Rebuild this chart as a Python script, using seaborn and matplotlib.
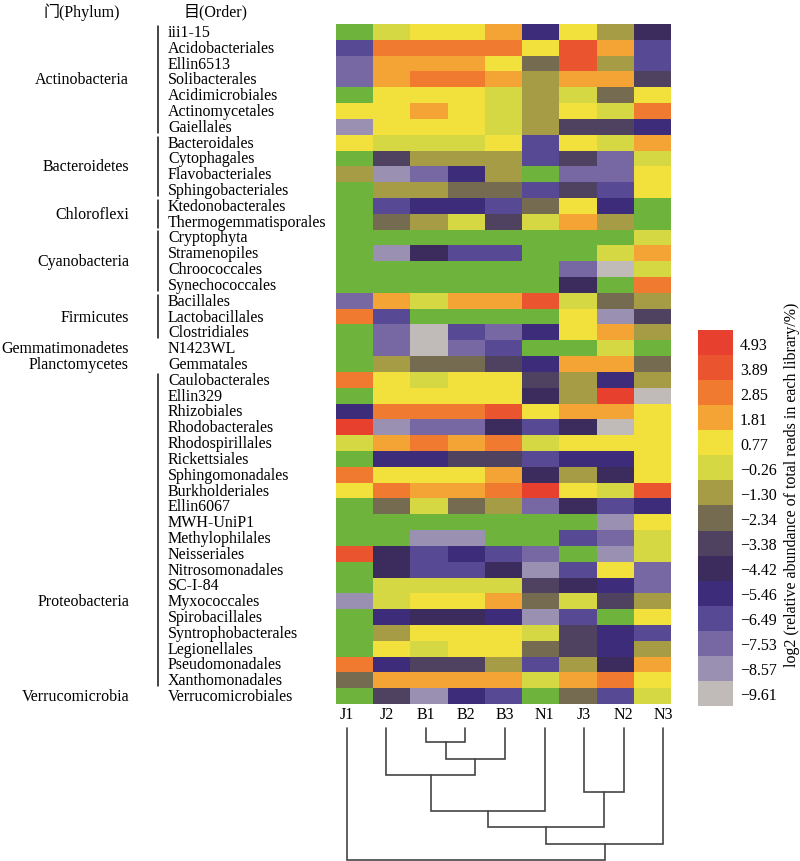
import numpy as np
import pandas as pd
import matplotlib
matplotlib.use('Agg')
import matplotlib.pyplot as plt
from matplotlib.colors import ListedColormap
from matplotlib import transforms
import seaborn as sns

# ---------- data ----------
nan = np.nan

samples = ['J1', 'J2', 'B1', 'B2', 'B3', 'N1', 'J3', 'N2', 'N3']

orders = ['iii1-15', 'Acidobacteriales', 'Ellin6513', 'Solibacterales', 'Acidimicrobiales',
          'Actinomycetales', 'Gaiellales', 'Bacteroidales', 'Cytophagales', 'Flavobacteriales',
          'Sphingobacteriales', 'Ktedonobacterales', 'Thermogemmatisporales', 'Cryptophyta',
          'Stramenopiles', 'Chroococcales', 'Synechococcales', 'Bacillales', 'Lactobacillales',
          'Clostridiales', 'N1423WL', 'Gemmatales', 'Caulobacterales', 'Ellin329', 'Rhizobiales',
          'Rhodobacterales', 'Rhodospirillales', 'Rickettsiales', 'Sphingomonadales',
          'Burkholderiales', 'Ellin6067', 'MWH-UniP1', 'Methylophilales', 'Neisseriales',
          'Nitrosomonadales', 'SC-I-84', 'Myxococcales', 'Spirobacillales', 'Syntrophobacterales',
          'Legionellales', 'Pseudomonadales', 'Xanthomonadales', 'Verrucomicrobiales']

# phylum, first row, last row, row where the name is written
phyla = ['Actinobacteria', 'Bacteroidetes', 'Chloroflexi', 'Cyanobacteria', 'Firmicutes',
         'Gemmatimonadetes', 'Planctomycetes', 'Proteobacteria', 'Verrucomicrobia']
phylum_start = [0, 7, 11, 13, 17, 20, 21, 22, 42]
phylum_end = [6, 10, 12, 16, 19, 20, 21, 41, 42]
phylum_label_row = [3.0, 8.5, 11.5, 14.5, 18.0, 20.0, 21.0, 36.0, 42.0]

# colour levels of the legend (log2 relative abundance)
levels = [4.93, 3.89, 2.85, 1.81, 0.77, -0.26, -1.30, -2.34, -3.38, -4.42,
          -5.46, -6.49, -7.53, -8.57, -9.61]
level_colors = ['#e8402e', '#ea5530', '#ef7a30', '#f4a434', '#f2e03c', '#d5d843',
                '#a69c45', '#746b50', '#4e4260', '#3c2c5e', '#3d2c7a', '#574993',
                '#7768a3', '#9990b2', '#c0bab9']
missing_color = '#6db33c'

J1 = [nan, -6.49, -7.53, -7.53, nan, 0.77, -8.57, 0.77, nan, -1.30, nan, nan, nan, nan, nan,
      nan, nan, -7.53, 2.85, nan, nan, nan, 2.85, nan, -5.46, 4.93, -0.26, nan, 2.85, 0.77,
      nan, nan, nan, 3.89, nan, nan, -8.57, nan, nan, nan, 2.85, -2.34, nan]
J2 = [-0.26, 2.85, 1.81, 1.81, 0.77, 0.77, 0.77, -0.26, -3.38, -8.57, -1.30, -6.49, -2.34,
      nan, -8.57, nan, nan, 1.81, -6.49, -7.53, -7.53, -1.30, 0.77, 0.77, 2.85, -8.57, 1.81,
      -5.46, 0.77, 2.85, -2.34, nan, nan, -4.42, -4.42, -0.26, -0.26, -5.46, -1.30, 0.77,
      -5.46, 1.81, -3.38]
B1 = [0.77, 2.85, 1.81, 2.85, 0.77, 1.81, 0.77, -0.26, -1.30, -7.53, -1.30, -5.46, -1.30,
      nan, -4.42, nan, nan, -0.26, nan, -9.61, -9.61, -2.34, -0.26, 0.77, 2.85, -7.53, 2.85,
      -5.46, 0.77, 1.81, -0.26, nan, -8.57, -6.49, -6.49, -0.26, 0.77, -4.42, 0.77, -0.26,
      -3.38, 1.81, -8.57]
B2 = [0.77, 2.85, 1.81, 2.85, 0.77, 0.77, 0.77, -0.26, -1.30, -5.46, -2.34, -5.46, -0.26,
      nan, -6.49, nan, nan, 1.81, nan, -6.49, -7.53, -2.34, 0.77, 0.77, 2.85, -7.53, 1.81,
      -3.38, 0.77, 1.81, -2.34, nan, -8.57, -5.46, -6.49, -0.26, 0.77, -4.42, 0.77, 0.77,
      -3.38, 1.81, -5.46]
B3 = [1.81, 2.85, 0.77, 1.81, -0.26, -0.26, -0.26, 0.77, -1.30, -1.30, -2.34, -6.49, -3.38,
      nan, -6.49, nan, nan, 1.81, nan, -7.53, -6.49, -3.38, 0.77, 0.77, 3.89, -4.42, 2.85,
      -3.38, 1.81, 2.85, -1.30, nan, nan, -6.49, -4.42, -0.26, 1.81, -5.46, 0.77, 0.77,
      -1.30, 1.81, -6.49]
N1 = [-5.46, 0.77, -2.34, -1.30, -1.30, -1.30, -1.30, -6.49, -6.49, nan, -6.49, -2.34, -0.26,
      nan, nan, nan, nan, 3.89, nan, -5.46, nan, -5.46, -3.38, -4.42, 0.77, -6.49, -0.26,
      -6.49, -4.42, 4.93, -7.53, nan, nan, -7.53, -8.57, -3.38, -2.34, -8.57, -0.26, -2.34,
      -6.49, -0.26, nan]
J3 = [0.77, 3.89, 3.89, 1.81, -0.26, 0.77, -3.38, 0.77, -3.38, -7.53, -3.38, 0.77, 1.81,
      nan, nan, -7.53, -4.42, -0.26, 0.77, 0.77, nan, 1.81, -1.30, -1.30, 1.81, -4.42, 0.77,
      -5.46, -1.30, 0.77, -4.42, nan, -6.49, nan, -6.49, -4.42, -0.26, -6.49, -3.38, -3.38,
      -1.30, 1.81, -2.34]
N2 = [-1.30, 1.81, -1.30, 1.81, -2.34, -0.26, -3.38, -0.26, -7.53, -7.53, -6.49, -5.46, -1.30,
      nan, -0.26, -9.61, nan, -2.34, -8.57, 1.81, -0.26, 1.81, -5.46, 4.93, 1.81, -9.61, 0.77,
      -5.46, -4.42, -0.26, -6.49, -8.57, -7.53, -8.57, 0.77, -5.46, -3.38, nan, -5.46, -5.46,
      -4.42, 2.85, -6.49]
N3 = [-4.42, -6.49, -6.49, -3.38, 0.77, 2.85, -5.46, 1.81, -0.26, 0.77, 0.77, nan, nan, -0.26,
      1.81, -0.26, 2.85, -1.30, -3.38, -1.30, nan, -2.34, -1.30, -9.61, 0.77, 0.77, 0.77, 0.77,
      0.77, 3.89, -5.46, 0.77, -0.26, -0.26, -7.53, -7.53, -1.30, 0.77, -6.49, -1.30, 1.81,
      0.77, -0.26]

# sample clustering (leaf indices 0-8, new clusters numbered from 9 on)
link_a = [2, 9, 1, 6, 11, 13, 14, 0]
link_b = [3, 4, 10, 7, 5, 12, 8, 15]
link_height = [0.85, 1.9, 2.85, 3.9, 5.0, 6.0, 7.0, 8.0]

# ---------- style ----------
sns.set_style('white')
plt.rcParams['font.family'] = ['Liberation Serif', 'Noto Sans CJK SC']
plt.rcParams['axes.unicode_minus'] = True
plt.rcParams['text.color'] = 'black'
plt.rcParams['xtick.color'] = 'black'
plt.rcParams['ytick.color'] = 'black'
plt.rcParams['xtick.labelcolor'] = 'black'
plt.rcParams['ytick.labelcolor'] = 'black'
fs = 11.5

df = pd.DataFrame({'J1': J1, 'J2': J2, 'B1': B1, 'B2': B2, 'B3': B3,
                   'N1': N1, 'J3': J3, 'N2': N2, 'N3': N3}, index=orders)[samples]

step = (levels[0] - levels[-1]) / (len(levels) - 1)
cmap = ListedColormap(level_colors[::-1])

fig = plt.figure(figsize=(8, 8.62), dpi=100)
ax = fig.add_axes([0.42, 0.1821, 0.41875, 0.7889])
cax = fig.add_axes([0.8725, 0.1798, 0.04375, 0.4362])

sns.heatmap(df, ax=ax, cbar_ax=cax, cmap=cmap,
            vmin=levels[-1] - step / 2, vmax=levels[0] + step / 2,
            xticklabels=False, yticklabels=True, linewidths=0,
            cbar_kws={'ticks': levels})
ax.set_facecolor(missing_color)
ax.set_xlabel('')
ax.set_ylabel('')

# order names, left aligned far from the heatmap
ax.tick_params(axis='y', length=0, pad=121, labelsize=fs, labelcolor='black')
for t in ax.get_yticklabels():
    t.set_ha('left')
    t.set_rotation(0)

# phylum names and brackets
trans = transforms.blended_transform_factory(ax.transAxes, ax.transData)
for name, s, e, r in zip(phyla, phylum_start, phylum_end, phylum_label_row):
    ax.text(-0.618, r + 0.5, name, transform=trans, ha='right', va='center',
            fontsize=fs, color='black')
    if e > s:
        ax.plot([-0.531, -0.531], [s + 0.12, e + 0.88], transform=trans,
                color='#111111', lw=1.1, clip_on=False)

fig.text(82 / 800, 1 - 12 / 862, '门(Phylum)', ha='center', va='center', fontsize=fs)
fig.text(216 / 800, 1 - 12 / 862, '目(Order)', ha='center', va='center', fontsize=fs)

# colour bar
cbar = ax.collections[0].colorbar
cbar.outline.set_visible(False)
cax.tick_params(length=0, pad=5, labelsize=fs, labelcolor='black')
cax.set_yticklabels([f'{v:.2f}'.replace('-', '\u2212') for v in levels])
fig.text(792 / 800, 1 - 485 / 862,
         'log2 (relative abundance of total reads in each library/%)',
         rotation=90, ha='center', va='center', fontsize=fs)

# dendrogram of samples
dax = fig.add_axes([0.40875, 0.0, 0.445, 0.1566])
xpos = {i: float(i) for i in range(len(samples))}
hpos = {i: 0.0 for i in range(len(samples))}
for k, (a, b, h) in enumerate(zip(link_a, link_b, link_height)):
    node = len(samples) + k
    dax.plot([xpos[a], xpos[a], xpos[b], xpos[b]], [hpos[a], h, h, hpos[b]],
             color='#444444', lw=1.2, solid_joinstyle='miter')
    xpos[node] = (xpos[a] + xpos[b]) / 2
    hpos[node] = h
dax.set_xlim(-0.5, len(samples) - 0.5)
dax.set_ylim(8.06, -0.12)
dax.set_xticks(range(len(samples)))
dax.set_xticklabels(samples, fontsize=fs)
dax.xaxis.tick_top()
dax.tick_params(axis='x', length=0, pad=3, labelcolor='black')
dax.set_yticks([])
for sp in dax.spines.values():
    sp.set_visible(False)

fig.savefig('out.png', dpi=100)
